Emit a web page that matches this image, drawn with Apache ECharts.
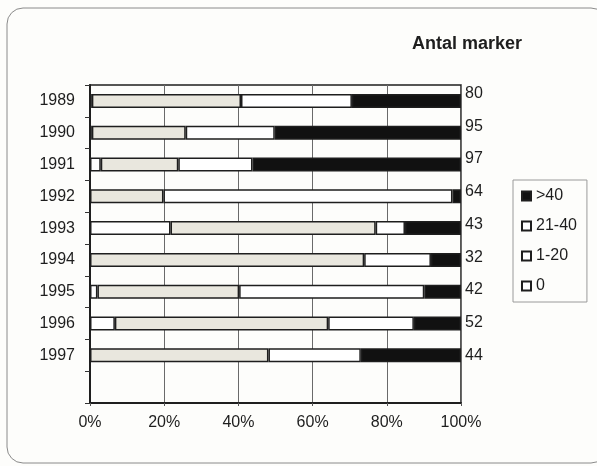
<!DOCTYPE html>
<html>
<head>
<meta charset="utf-8">
<script src="https://cdn.jsdelivr.net/npm/echarts@6/dist/echarts.min.js"></script>
<style>
  html, body { margin: 0; padding: 0; background: #fdfdfb; }
  #chart { width: 597px; height: 466px; }
</style>
</head>
<body>
<div id="chart"></div>
<script>
// share of each marker-count class per year, in percent
var years = ['1989', '1990', '1991', '1992', '1993', '1994', '1995', '1996', '1997', ''];
var counts = ['80', '95', '97', '64', '43', '32', '42', '52', '44'];
var share0 = [0.5, 0.5, 2.9, 0, 21.7, 0, 2.0, 6.7, 0];
var share1to20 = [40.2, 25.3, 20.9, 19.8, 55.3, 73.9, 38.2, 57.5, 48.1];
var share21to40 = [29.9, 24.0, 20.0, 77.9, 7.9, 18.0, 49.9, 23.1, 24.9];
var shareOver40 = [29.4, 50.2, 56.2, 2.3, 15.1, 8.1, 9.9, 12.7, 27.0];
var xTicks = [0, 20, 40, 60, 80, 100];

var chart = echarts.init(document.getElementById('chart'));
var font = 'Liberation Sans, Arial, sans-serif';

function barSeries(name, data, color) {
    return {
        name: name,
        type: 'bar',
        stack: 'total',
        barWidth: 14,
        data: data,
        itemStyle: { color: color, borderColor: '#1e1e1e', borderWidth: 1.5 },
        emphasis: { disabled: true }
    };
}

var option = {
    backgroundColor: '#fdfdfb',
    animation: false,
    textStyle: { fontFamily: font },
    title: {
        text: 'Antal marker',
        left: 407,
        top: 30,
        textStyle: { fontSize: 18, fontWeight: 'bold', color: '#1e1e1e', fontFamily: font }
    },
    graphic: [{
        type: 'rect',
        shape: { x: 7, y: 8, width: 600, height: 455, r: 16 },
        style: { fill: 'none', stroke: '#8a8a8a', lineWidth: 1 },
        silent: true
    }],
    legend: {
        orient: 'vertical',
        left: 513,
        top: 180,
        padding: [7, 10, 7, 8],
        itemGap: 12,
        itemWidth: 9,
        itemHeight: 9,
        icon: 'rect',
        borderColor: '#9a9a9a',
        borderWidth: 1,
        textStyle: { fontSize: 16, color: '#1e1e1e', lineHeight: 18 },
        data: [
            { name: '>40' },
            { name: '21-40', itemStyle: { color: '#fff' } },
            { name: '1-20', itemStyle: { color: '#fff' } },
            { name: '0', itemStyle: { color: '#fff' } }
        ]
    },
    grid: [{
        left: 90, right: 136, top: 85, height: 318,
        show: true, borderColor: '#1e1e1e', borderWidth: 1.5
    }, {
        left: 90, right: 136, top: 77, height: 295
    }],
    xAxis: [{
        type: 'value',
        min: 0,
        max: 100,
        interval: 20,
        axisLine: { show: true, lineStyle: { color: '#1e1e1e', width: 2 } },
        axisTick: { show: true, length: 3, lineStyle: { color: '#555' } },
        axisLabel: {
            fontSize: 16, color: '#1e1e1e', margin: 12,
            formatter: function (v) { return xTicks.indexOf(v) >= 0 ? v + '%' : ''; }
        },
        splitLine: { show: true, lineStyle: { color: '#6a6a6a', width: 1 } }
    }, {
        gridIndex: 1,
        type: 'value',
        min: 0,
        max: 100,
        show: false
    }],
    yAxis: [{
        type: 'category',
        inverse: true,
        data: years,
        axisLine: { show: true, lineStyle: { color: '#1e1e1e', width: 2 } },
        axisTick: { show: true, length: 5, lineStyle: { color: '#333' } },
        axisLabel: { fontSize: 16, color: '#1e1e1e', margin: 15 }
    }, {
        gridIndex: 1,
        type: 'category',
        inverse: true,
        position: 'right',
        data: counts,
        axisLine: { show: false },
        axisTick: { show: false },
        axisLabel: { fontSize: 16, color: '#1e1e1e', margin: 4 }
    }],
    series: [
        barSeries('0', share0, '#ffffff'),
        barSeries('1-20', share1to20, '#e9e7de'),
        barSeries('21-40', share21to40, '#ffffff'),
        barSeries('>40', shareOver40, '#111111')
    ]
};

chart.setOption(option);
</script>
</body>
</html>
